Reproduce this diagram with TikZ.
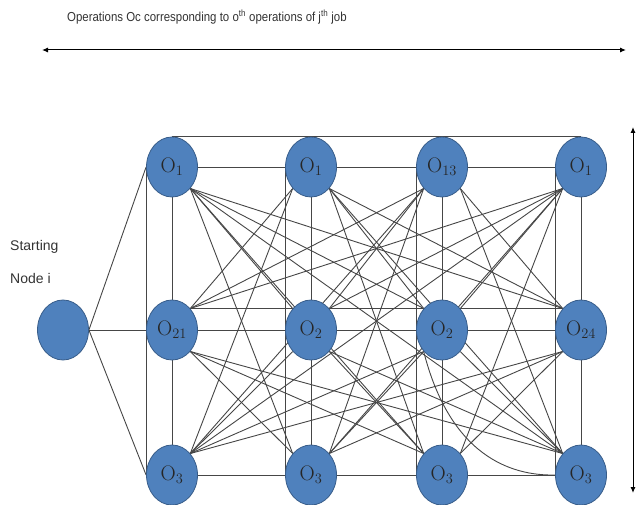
\documentclass[tikz,border=0pt]{standalone}
\usepackage{fontspec}
\newfontfamily\capfont{Liberation Sans}
\usetikzlibrary{shapes.geometric,arrows.meta,backgrounds}
\definecolor{opfill}{RGB}{79,129,189}
\definecolor{opdraw}{RGB}{56,93,138}
\definecolor{edgegray}{RGB}{70,70,70}
\begin{document}
\begin{tikzpicture}[x=1pt,y=-1pt,
  opnode/.style={ellipse, draw=opdraw, line width=0.8pt, fill=opfill,
    minimum width=51pt, minimum height=60pt, inner sep=0pt,
    font=\fontsize{21}{21}\selectfont, text=black!85},
  link/.style={draw=edgegray, line width=0.9pt},
  span/.style={draw=black, line width=1pt,
    {Latex[length=6pt,width=5pt]}-{Latex[length=6pt,width=5pt]}},
  caption/.style={font=\capfont\fontsize{14}{14}\selectfont, text=black!80,
    anchor=west, inner sep=0pt}]
\useasboundingbox (0,0) rectangle (643,505);

% starting node
\node[opnode] (s) at (63,330) {};

% operation nodes: rows t (top), m (middle), b (bottom); columns 1..4
\node[opnode] (t1) at (172,167) {O$_{1}$};
\node[opnode] (t2) at (311,167) {O$_{1}$};
\node[opnode] (t3) at (442,167) {O$_{13}$};
\node[opnode] (t4) at (581,167) {O$_{1}$};
\node[opnode] (m1) at (172,330) {O$_{21}$};
\node[opnode] (m2) at (311,330) {O$_{2}$};
\node[opnode] (m3) at (442,330) {O$_{2}$};
\node[opnode] (m4) at (581,330) {O$_{24}$};
\node[opnode] (b1) at (172,475) {O$_{3}$};
\node[opnode] (b2) at (311,475) {O$_{3}$};
\node[opnode] (b3) at (442,475) {O$_{3}$};
\node[opnode] (b4) at (581,475) {O$_{3}$};

\begin{scope}[on background layer]
  % rows
  \draw[link] (t1) -- (t4);
  \draw[link] (t1.north) -- (t4.north);
  \draw[link] (s) -- (m4);
  \draw[link] (m1.north east) -- (m4.north west);
  \draw[link] (b1) -- (b4);
  % columns
  \foreach \c in {1,...,4} {
    \draw[link] (t\c) -- (b\c);
    \draw[link] (t\c.west) -- (b\c.west);
  }
  % from the starting node
  \draw[link] (s.east) -- (t1.west);
  \draw[link] (s.east) -- (b1.west);
  % crossing links between later columns
  \foreach \a in {1,2,3} {
    \foreach \b in {2,3,4} {
      \ifnum\b>\a
        \draw[link] (t\a.south east) -- (m\b.north west);
        \draw[link] (t\a.south east) -- (b\b.north west);
        \draw[link] (m\a.south east) -- (b\b.north west);
        \draw[link] (m\a.north east) -- (t\b.south west);
        \draw[link] (b\a.north east) -- (t\b.south west);
        \draw[link] (b\a.north east) -- (m\b.south west);
      \fi
    }
  }
  \draw[link] (m3.south west) .. controls (450,455) and (510,476) .. (b4.west);
\end{scope}

% captions
\node[caption, font=\capfont\fontsize{13}{13}\selectfont] (title) at (67,17)
  {\scalebox{0.88}[1]{Operations Oc corresponding to o\textsuperscript{th} operations of j\textsuperscript{th} job}};
\node[caption] (start1) at (10,247) {Starting};
\node[caption] (start2) at (10,278) {Node i};

% extent arrows
\coordinate (hl) at (42,50);
\coordinate (hr) at (626,50);
\draw[span] (hl) -- (hr);
\coordinate (vt) at (633,127);
\coordinate (vb) at (633,493);
\draw[span] (vt) -- (vb);
\end{tikzpicture}
\end{document}
